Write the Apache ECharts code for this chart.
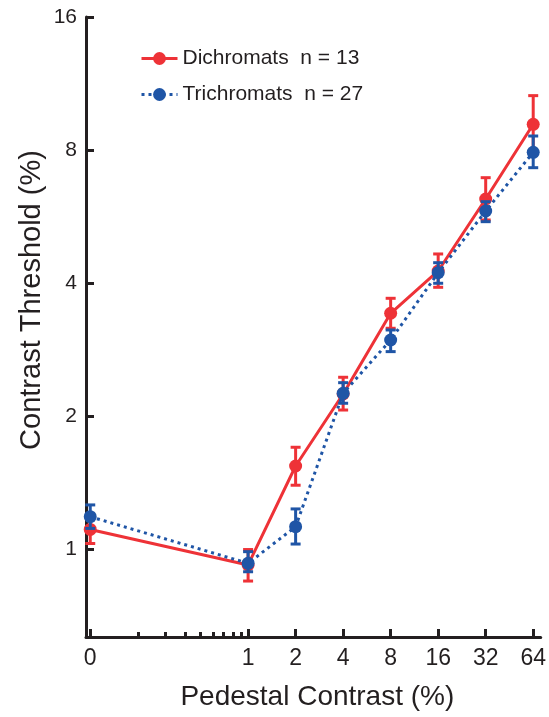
<!DOCTYPE html>
<html>
<head>
<meta charset="utf-8">
<script src="https://cdn.jsdelivr.net/npm/echarts@6/dist/echarts.min.js"></script>
<style>
html,body{margin:0;padding:0;background:#fff;}
#chart{width:549px;height:717px;}
</style>
</head>
<body>
<div id="chart"></div>
<script>
// ---- data ----
// the "0" pedestal is plotted at 0.1 on the log axis (labelled "0")
const xValues = [0.1, 1, 2, 4, 8, 16, 32, 64];
const xTickValues = [0.1, 1, 2, 4, 8, 16, 32, 64];
const xTickLabels = ['0', '1', '2', '4', '8', '16', '32', '64'];
const xMinorTickValues = [0.2, 0.3, 0.4, 0.5, 0.6, 0.7, 0.8, 0.9];
const yTickValues = [1, 2, 4, 8, 16];
const yTickLabels = ['1', '2', '4', '8', '16'];

const dichroName = 'Dichromats  n = 13';
const dichroMean = [1.107, 0.920, 1.541, 2.243, 3.416, 4.258, 6.197, 9.147];
const dichroLow  = [1.029, 0.846, 1.394, 2.063, 3.159, 3.911, 5.555, 7.875];
const dichroHigh = [1.191, 0.997, 1.699, 2.447, 3.693, 4.653, 6.925, 10.62];

const trichroName = 'Trichromats  n = 27';
const trichroMean = [1.183, 0.928, 1.123, 2.251, 2.972, 4.220, 5.821, 7.905];
const trichroLow  = [1.113, 0.888, 1.026, 2.137, 2.797, 3.994, 5.506, 7.295];
const trichroHigh = [1.258, 0.986, 1.232, 2.379, 3.131, 4.446, 6.110, 8.605];

// ---- styles ----
const RED = '#EE3237';
const BLUE = '#1F55A6';
const INK = '#231F20';
const FONT = '"Liberation Sans", Arial, Helvetica, sans-serif';

function errRender(color) {
  return function (params, api) {
    const x = api.value(0), lo = api.value(1), hi = api.value(2);
    const p1 = api.coord([x, lo]);
    const p2 = api.coord([x, hi]);
    const hw = 5;
    const style = { stroke: color, lineWidth: 3 };
    return {
      type: 'group',
      children: [
        { type: 'line', shape: { x1: p1[0], y1: p1[1], x2: p2[0], y2: p2[1] }, style: style },
        { type: 'line', shape: { x1: p1[0] - hw, y1: p1[1], x2: p1[0] + hw, y2: p1[1] }, style: style },
        { type: 'line', shape: { x1: p2[0] - hw, y1: p2[1], x2: p2[0] + hw, y2: p2[1] }, style: style }
      ]
    };
  };
}

const pairs = (ys) => xValues.map((x, i) => [x, ys[i]]);
const errs = (lo, hi) => xValues.map((x, i) => [x, lo[i], hi[i]]);

function nearestLabel(v, ticks, labels) {
  let best = 0, bd = Infinity;
  ticks.forEach((t, i) => { const d = Math.abs(Math.log(t) - Math.log(v)); if (d < bd) { bd = d; best = i; } });
  return labels[best];
}

const chart = echarts.init(document.getElementById('chart'), null, { renderer: 'canvas' });
chart.setOption({
  animation: false,
  backgroundColor: '#fff',
  textStyle: { fontFamily: FONT },
  grid: { left: 86, right: 6, top: 17, bottom: 80, containLabel: false },
  legend: {
    orient: 'vertical',
    left: 140,
    top: 48,
    padding: 0,
    itemWidth: 36,
    itemHeight: 16,
    itemGap: 15,
    data: [dichroName, trichroName],
    lineStyle: { width: 3 },
    textStyle: { fontSize: 21, color: INK, fontFamily: FONT }
  },
  xAxis: [
    {
      type: 'log', logBase: 2, min: 0.094, max: 71.4, position: 'bottom',
      name: 'Pedestal Contrast (%)', nameLocation: 'middle', nameGap: 46,
      nameTextStyle: { fontSize: 28, color: INK, fontFamily: FONT, padding: [0, 0, 0, 8] },
      axisLine: { onZero: false, lineStyle: { color: INK, width: 3 } },
      axisTick: { inside: true, length: 8, customValues: xTickValues, lineStyle: { color: INK, width: 3 } },
      axisLabel: {
        customValues: xTickValues, margin: 10, fontSize: 23, color: INK, fontFamily: FONT,
        formatter: (v) => nearestLabel(v, xTickValues, xTickLabels)
      },
      splitLine: { show: false },
      minorTick: { show: false }
    },
    {
      type: 'log', logBase: 2, min: 0.094, max: 71.4, position: 'bottom',
      axisLine: { show: false, onZero: false },
      axisTick: { inside: true, length: 5, customValues: xMinorTickValues, lineStyle: { color: INK, width: 3 } },
      axisLabel: { show: false },
      splitLine: { show: false }
    }
  ],
  yAxis: {
    type: 'log', logBase: 2, min: 0.632, max: 16,
    axisLine: { onZero: false, lineStyle: { color: INK, width: 3 } },
    axisTick: { inside: true, length: 8, customValues: yTickValues, lineStyle: { color: INK, width: 3 } },
    axisLabel: {
      customValues: yTickValues, margin: 9, fontSize: 21, color: INK, fontFamily: FONT,
      formatter: (v) => nearestLabel(v, yTickValues, yTickLabels)
    },
    splitLine: { show: false }
  },
  graphic: [{
    type: 'text', x: 32, y: 300, rotation: Math.PI / 2,
    style: { text: 'Contrast Threshold (%)', font: '29px ' + FONT, fill: INK, align: 'center', verticalAlign: 'middle' }
  }],
  series: [
    {
      name: 'errD', type: 'custom', renderItem: errRender(RED),
      data: errs(dichroLow, dichroHigh), encode: { x: 0, y: [1, 2] }, z: 2
    },
    {
      name: dichroName, type: 'line', data: pairs(dichroMean),
      symbol: 'circle', symbolSize: 13, showSymbol: true,
      lineStyle: { color: RED, width: 3 }, itemStyle: { color: RED }, z: 3
    },
    {
      name: 'errT', type: 'custom', renderItem: errRender(BLUE),
      data: errs(trichroLow, trichroHigh), encode: { x: 0, y: [1, 2] }, z: 4
    },
    {
      name: trichroName, type: 'line', data: pairs(trichroMean),
      symbol: 'circle', symbolSize: 13, showSymbol: true,
      lineStyle: { color: BLUE, width: 3, type: [3, 4] }, itemStyle: { color: BLUE }, z: 5
    }
  ]
});
</script>
</body>
</html>
